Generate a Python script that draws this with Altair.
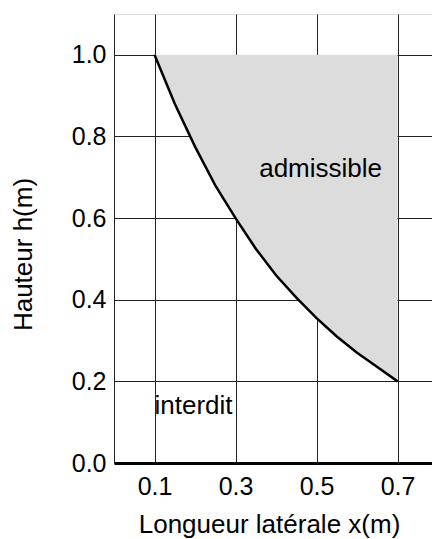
import altair as alt
import pandas as pd

# Curve
x_vals = [0.1, 0.15, 0.2, 0.25, 0.3, 0.35, 0.4, 0.45, 0.5, 0.55, 0.6, 0.65, 0.7]
h_vals = [1.0, 0.88, 0.775, 0.68, 0.60, 0.525, 0.46, 0.405, 0.355, 0.31, 0.27, 0.235, 0.2]
top_vals = [1.0] * len(x_vals)

x_ticks = [0.1, 0.3, 0.5, 0.7]
y_ticks = [0.0, 0.2, 0.4, 0.6, 0.8, 1.0]

label_text = ["admissible", "interdit"]
label_x = [0.51, 0.1]
label_y = [0.72, 0.14]

FONT = "Liberation Sans"

curve = pd.DataFrame({"x": x_vals, "h": h_vals, "top": top_vals})
labels = pd.DataFrame({"t": label_text, "x": label_x, "y": label_y})

xs = alt.Scale(domain=[0, 0.785], nice=False, zero=False)
ys = alt.Scale(domain=[0, 1.1], nice=False)

x_axis = alt.Axis(values=x_ticks, format=".1f", grid=True, gridColor="#222",
                  gridWidth=1, gridOpacity=1, ticks=False, domainColor="black",
                  domainWidth=3, labelFontSize=25, labelFont=FONT, labelColor="black",
                  labelPadding=11, title="Longueur latérale x(m)", titleFont=FONT,
                  titleFontSize=26, titleFontWeight="normal", titleColor="black",
                  titleX=155, titlePadding=12)
y_axis = alt.Axis(values=y_ticks, format=".1f", grid=True, gridColor="#222",
                  gridWidth=1, gridOpacity=1, ticks=False, domainColor="#222",
                  domainWidth=1, labelFontSize=25, labelFont=FONT, labelColor="black",
                  labelPadding=8, title="Hauteur h(m)", titleFont=FONT,
                  titleFontSize=26, titleFontWeight="normal", titleColor="black",
                  titleY=240, titlePadding=35)

base = alt.Chart(curve)

area = base.mark_area(color="#dcdcdc", opacity=1).encode(
    x=alt.X("x:Q", scale=xs, axis=x_axis),
    y=alt.Y("h:Q", scale=ys, axis=y_axis),
    y2="top:Q",
)

line = base.mark_line(color="black", strokeWidth=2.5).encode(
    x=alt.X("x:Q", scale=xs),
    y=alt.Y("h:Q", scale=ys),
)

txt1 = alt.Chart(labels.iloc[[0]]).mark_text(
    font=FONT, fontSize=26, color="black", align="center", baseline="middle"
).encode(x=alt.X("x:Q", scale=xs), y=alt.Y("y:Q", scale=ys), text="t:N")

txt2 = alt.Chart(labels.iloc[[1]]).mark_text(
    font=FONT, fontSize=26, color="black", align="left", baseline="middle"
).encode(x=alt.X("x:Q", scale=xs), y=alt.Y("y:Q", scale=ys), text="t:N")

chart = alt.layer(area, line, txt1, txt2).properties(
    width=318, height=449,
    autosize=alt.AutoSizeParams(type="none"),
    padding={"left": 106, "top": 6, "right": 0, "bottom": 75},
).configure_view(stroke=None).configure(background="white")

chart.save("out.html", embed_options={"renderer": "svg", "actions": False})
